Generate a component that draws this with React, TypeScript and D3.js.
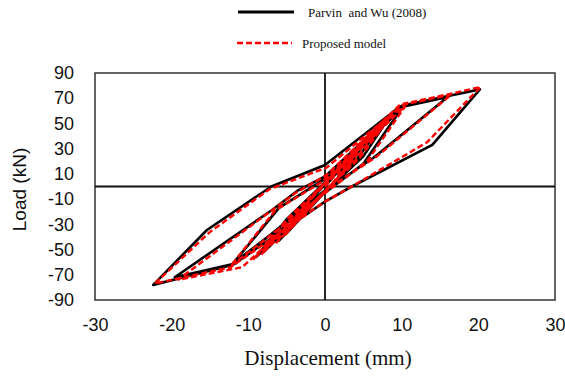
import { useEffect, useRef } from 'react';
import * as d3 from 'd3';

// Parvin and Wu (2008) test curve
const parvinDisp = [
  0,
  3.0, 1.5, -3.0, -1.5,
  4.0, 2.0, -4.0, -2.0,
  5.0, 2.5, -5.0, -2.5,
  6.0, 3.0, -6.0, -3.0,
  7.5, 4.0, -8.0, -4.0,
  8.5, 5.0, -9.0, -5.0,
  10.0, 5.0, 0.0, -12.0, -6.0, 0.0,
  10.0, 16.0, 6.3, 0.0, -11.7, -19.6, -7.0, -3.5, 0.0,
  10.0, 17.0, 20.2, 14.0, 3.5, 0.0, -12.0, -22.4, -15.4, -7.0, 0.0, 9.5,
];
const parvinLoad = [
  0,
  21, 5, -22, -7,
  28, 8, -29, -10,
  36, 12, -37, -14,
  42, 15, -43, -18,
  50, 20, -52, -22,
  56, 24, -56, -26,
  62, 18, -5, -61, -17, 6,
  63, 71, 22.6, -3, -61, -72, -19, -3, 8,
  64, 73, 77, 33, 0, -12, -62, -78, -34.5, 0, 17, 62,
];

// Proposed model curve
const modelDisp = [
  0,
  3.2, 1.3, -3.2, -1.4,
  4.2, 1.8, -4.3, -1.9,
  5.3, 2.3, -5.3, -2.4,
  6.3, 2.8, -6.4, -2.9,
  7.8, 3.7, -8.3, -3.8,
  8.8, 4.6, -9.4, -4.8,
  10.5, 5.5, 0.5, -12.3, -6.5, -0.3,
  10.3, 16.5, 6.8, 0.3, -10.8, -19.2, -7.4, -3.8, 0.2,
  9.8, 17.5, 20.3, 13.3, 3.2, -0.3, -12.3, -22.2, -15.0, -7.2, 0.2, 9.8,
];
const modelLoad = [
  0,
  23, 5, -24, -6,
  30, 7, -31, -9,
  38, 11, -39, -13,
  44, 14, -45, -17,
  52, 19, -54, -21,
  58, 23, -58, -25,
  64, 20, -3, -63, -19, 4,
  65, 73, 24, -2, -64, -74, -21, -5, 9,
  65, 75, 79, 35, -1, -13, -64, -77, -36, -2, 15, 63,
];

const xTicks = [-30, -20, -10, 0, 10, 20, 30];
const yTicks = [-90, -70, -50, -30, -10, 10, 30, 50, 70, 90];

const W = 565;
const H = 379;

export default function App() {
  const ref = useRef<SVGSVGElement>(null);

  useEffect(() => {
    const svg = d3.select(ref.current);
    svg.selectAll('*').remove();

    const m = { left: 95, right: 10, top: 73, bottom: 79 };
    const x = d3.scaleLinear().domain([-30, 30]).range([m.left, W - m.right]);
    const y = d3.scaleLinear().domain([-90, 90]).range([H - m.bottom, m.top]);
    const sans = '"Liberation Sans", Arial, sans-serif';
    const serif = '"Liberation Serif", "Times New Roman", serif';

    // frame
    svg.append('rect')
      .attr('x', x(-30)).attr('y', y(90))
      .attr('width', x(30) - x(-30)).attr('height', y(-90) - y(90))
      .attr('fill', 'none').attr('stroke', '#333').attr('stroke-width', 1.5);

    // zero lines
    svg.append('line').attr('x1', x(-30)).attr('x2', x(30)).attr('y1', y(0)).attr('y2', y(0))
      .attr('stroke', '#111').attr('stroke-width', 1.8);
    svg.append('line').attr('x1', x(0)).attr('x2', x(0)).attr('y1', y(-90)).attr('y2', y(90))
      .attr('stroke', '#111').attr('stroke-width', 1.8);

    // axes (plain hyphen for negatives, like the original)
    svg.append('g').attr('transform', `translate(0,${y(-90)})`)
      .call(d3.axisBottom(x).tickValues(xTicks).tickSize(0).tickPadding(18).tickFormat(d => String(d)))
      .call(s => s.select('.domain').remove())
      .call(s => s.selectAll('text').attr('fill', '#111').style('font-family', sans).style('font-size', '18px'));
    svg.append('g').attr('transform', `translate(${x(-30)},0)`)
      .call(d3.axisLeft(y).tickValues(yTicks).tickSize(0).tickPadding(21).tickFormat(d => String(d)))
      .call(s => s.select('.domain').remove())
      .call(s => s.selectAll('text').attr('fill', '#111').style('font-family', sans).style('font-size', '18px'));

    // axis titles
    svg.append('text').attr('x', x(0) + 3).attr('y', 365)
      .attr('text-anchor', 'middle').attr('fill', '#111')
      .style('font-family', serif).style('font-size', '21px')
      .text('Displacement (mm)');
    svg.append('text').attr('transform', `translate(26,${y(0) + 3}) rotate(-90)`)
      .attr('text-anchor', 'middle').attr('fill', '#111')
      .style('font-family', sans).style('font-size', '19px')
      .text('Load (kN)');

    const line = d3.line<number[]>().x(p => x(p[0])).y(p => y(p[1]));
    const black = parvinDisp.map((d, i) => [d, parvinLoad[i]]);
    const red = modelDisp.map((d, i) => [d, modelLoad[i]]);

    svg.append('path').datum(black)
      .attr('fill', 'none').attr('stroke', '#000').attr('stroke-width', 2.6)
      .attr('stroke-linejoin', 'round')
      .attr('d', line);
    svg.append('path').datum(red)
      .attr('fill', 'none').attr('stroke', '#ff0000').attr('stroke-width', 2.4)
      .attr('stroke-dasharray', '6,3')
      .attr('d', line);

    // legend
    const lg = svg.append('g');
    lg.append('line').attr('x1', 238).attr('x2', 294).attr('y1', 12).attr('y2', 12)
      .attr('stroke', '#000').attr('stroke-width', 3);
    lg.append('text').attr('x', 308).attr('y', 16.5).attr('fill', '#111')
      .style('font-family', serif).style('font-size', '13px').style('white-space', 'pre')
      .text('Parvin  and Wu (2008)');
    lg.append('line').attr('x1', 237).attr('x2', 292).attr('y1', 43).attr('y2', 43)
      .attr('stroke', '#ff0000').attr('stroke-width', 2.4).attr('stroke-dasharray', '6,3');
    lg.append('text').attr('x', 302).attr('y', 47.5).attr('fill', '#111')
      .style('font-family', serif).style('font-size', '13px')
      .text('Proposed model');
  }, []);

  return (
    <svg ref={ref} width={W} height={H}
      style={{ position: 'absolute', left: 0, top: 0, background: '#fff' }} />
  );
}
